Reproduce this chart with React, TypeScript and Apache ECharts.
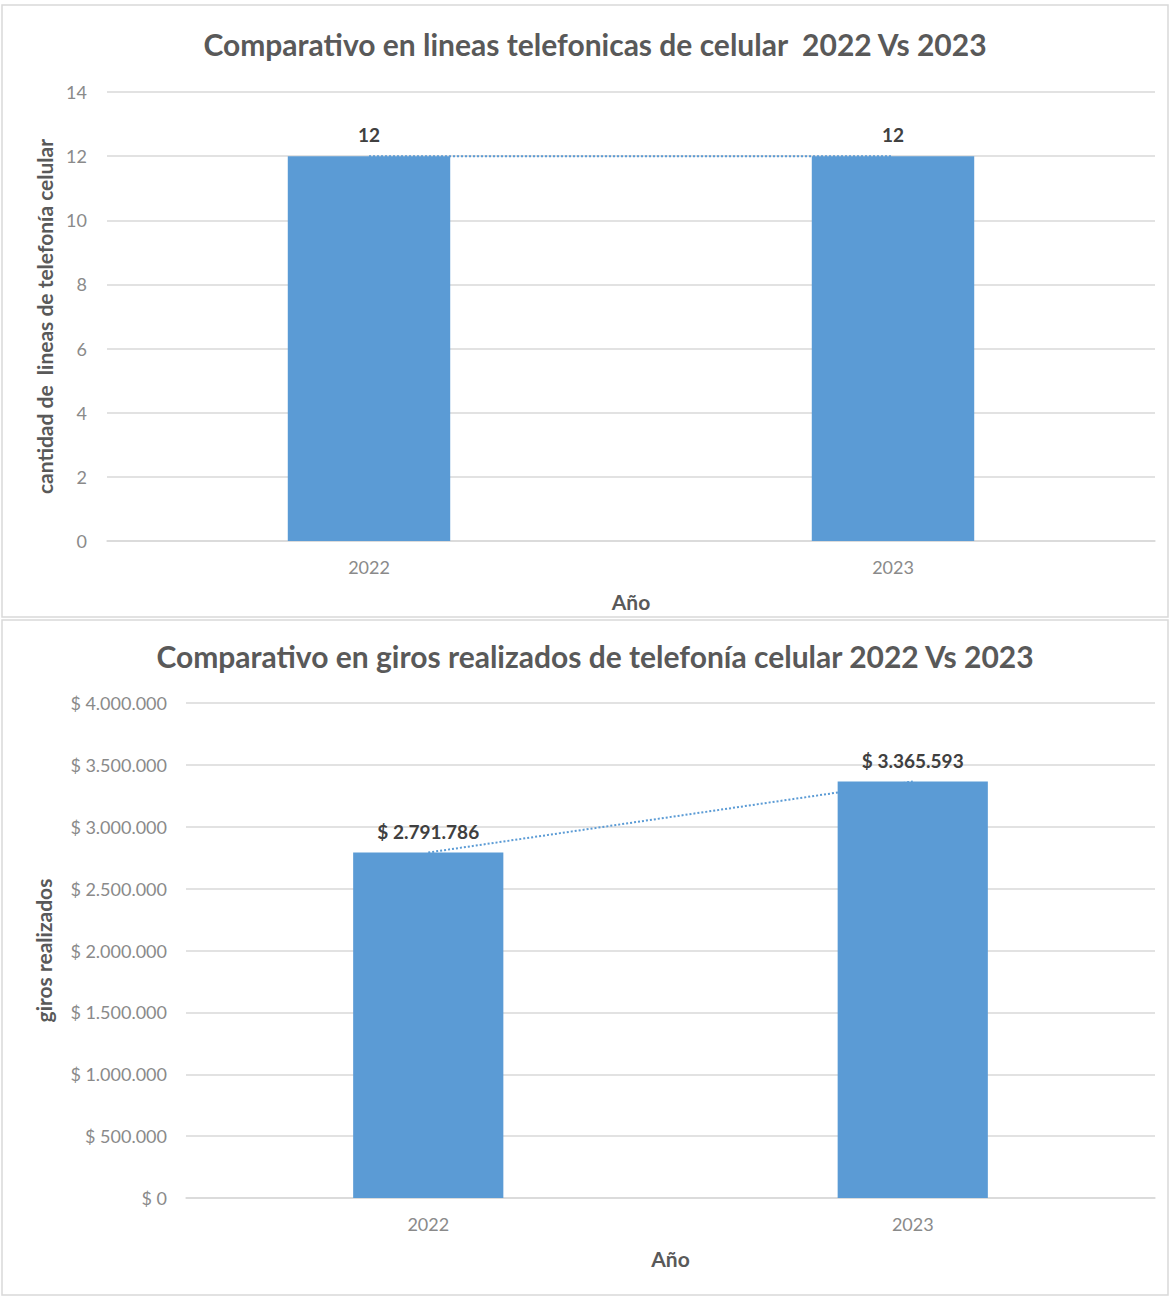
import React, { useEffect, useRef } from "react";
import * as echarts from "echarts";

const years = ["2022", "2023"];
const lineasValues = [12, 12];
const girosValues = [2791786, 3365593];

const FONT = "Lato";
const BLUE = "#5b9bd5";
const GRID_COLOR = "#d9d9d9";
const TEXT_GRAY = "#595959";

const money = (v: number) =>
  "$ " + String(Math.round(v)).replace(/\B(?=(\d{3})+(?!\d))/g, ".");

export default function App() {
  const ref = useRef<HTMLDivElement>(null);
  useEffect(() => {
    document.body.style.margin = "0";
    const chart = echarts.init(ref.current!, undefined, { renderer: "svg" });
    const axisLabel = { color: "#8a8a8a", fontSize: 18, fontFamily: FONT };
    const nameStyle = { color: TEXT_GRAY, fontSize: 21, fontWeight: "bold" as const, fontFamily: FONT };
    const dataLabel = (fmt: any) => ({
      show: true,
      position: "top" as const,
      distance: 12,
      color: "#404040",
      fontSize: 19,
      fontWeight: "bold" as const,
      fontFamily: FONT,
      formatter: fmt,
    });
    chart.setOption({
      animation: false,
      backgroundColor: "#ffffff",
      graphic: [
        { type: "rect", shape: { x: 2, y: 5, width: 1166, height: 612 }, style: { fill: "none", stroke: GRID_COLOR, lineWidth: 1.5 }, z: -1 },
        { type: "rect", shape: { x: 2, y: 620, width: 1166, height: 675 }, style: { fill: "none", stroke: GRID_COLOR, lineWidth: 1.5 }, z: -1 },
      ],
      title: [
        {
          text: "Comparativo en lineas telefonicas de celular  2022 Vs 2023",
          left: 590, top: 24, textAlign: "center",
          textStyle: { color: TEXT_GRAY, fontSize: 30, fontWeight: "bold", fontFamily: FONT },
        },
        {
          text: "Comparativo en giros realizados de telefonía celular 2022 Vs 2023",
          left: 590, top: 636, textAlign: "center",
          textStyle: { color: TEXT_GRAY, fontSize: 30, fontWeight: "bold", fontFamily: FONT },
        },
      ],
      grid: [
        { left: 107, right: 15, top: 92, height: 449 },
        { left: 186, right: 15, top: 703, height: 495 },
      ],
      xAxis: [
        {
          gridIndex: 0, type: "category", data: years,
          axisLine: { lineStyle: { color: GRID_COLOR, width: 1.5 } }, axisTick: { show: false },
          axisLabel: { ...axisLabel, margin: 17 },
          name: "Año", nameLocation: "middle", nameGap: 50, nameTextStyle: nameStyle,
        },
        {
          gridIndex: 1, type: "category", data: years,
          axisLine: { lineStyle: { color: GRID_COLOR, width: 1.5 } }, axisTick: { show: false },
          axisLabel: { ...axisLabel, margin: 17 },
          name: "Año", nameLocation: "middle", nameGap: 50, nameTextStyle: nameStyle,
        },
      ],
      yAxis: [
        {
          gridIndex: 0, type: "value", min: 0, max: 14, interval: 2,
          axisLine: { show: false }, axisTick: { show: false },
          splitLine: { lineStyle: { color: GRID_COLOR, width: 1.5 } },
          axisLabel: { ...axisLabel, margin: 20 },
          name: "cantidad de  lineas de telefonía celular", nameLocation: "middle", nameGap: 52, nameRotate: 90,
          nameTextStyle: nameStyle,
        },
        {
          gridIndex: 1, type: "value", min: 0, max: 4000000, interval: 500000,
          axisLine: { show: false }, axisTick: { show: false },
          splitLine: { lineStyle: { color: GRID_COLOR, width: 1.5 } },
          axisLabel: { ...axisLabel, margin: 19, formatter: (v: number) => money(v) },
          name: "giros realizados", nameLocation: "middle", nameGap: 132, nameRotate: 90,
          nameTextStyle: nameStyle,
        },
      ],
      series: [
        {
          type: "line", xAxisIndex: 0, yAxisIndex: 0, data: lineasValues, z: 1,
          symbol: "none", lineStyle: { color: BLUE, width: 2, type: "dotted" },
        },
        {
          type: "bar", xAxisIndex: 0, yAxisIndex: 0, data: lineasValues, z: 2,
          barWidth: "31%", itemStyle: { color: BLUE },
          label: dataLabel((p: any) => String(p.value)),
        },
        {
          type: "line", xAxisIndex: 1, yAxisIndex: 1, data: girosValues, z: 1,
          symbol: "none", lineStyle: { color: BLUE, width: 2, type: "dotted" },
        },
        {
          type: "bar", xAxisIndex: 1, yAxisIndex: 1, data: girosValues, z: 2,
          barWidth: "31%", itemStyle: { color: BLUE },
          label: dataLabel((p: any) => money(p.value)),
        },
      ],
    });
    return () => chart.dispose();
  }, []);
  return <div ref={ref} style={{ width: 1170, height: 1296 }} />;
}
